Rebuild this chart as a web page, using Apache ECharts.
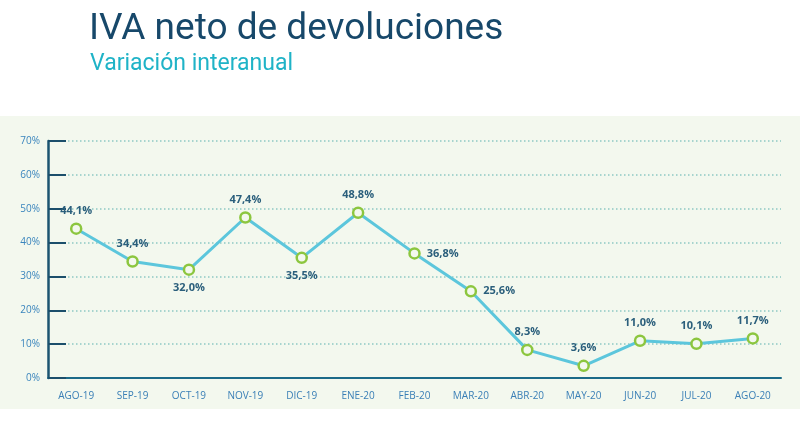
<!DOCTYPE html>
<html>
<head>
<meta charset="utf-8">
<script src="https://cdn.jsdelivr.net/npm/echarts@6/dist/echarts.min.js"></script>
<style>
  html, body { margin: 0; padding: 0; background: #fff; }
  #chart { width: 800px; height: 442px; }
</style>
</head>
<body>
<div id="chart"></div>
<script>
// meses y variación interanual (%)
const meses = ['AGO-19', 'SEP-19', 'OCT-19', 'NOV-19', 'DIC-19', 'ENE-20', 'FEB-20',
  'MAR-20', 'ABR-20', 'MAY-20', 'JUN-20', 'JUL-20', 'AGO-20'];
const variacion = [44.1, 34.4, 32.0, 47.4, 35.5, 48.8, 36.8, 25.6, 8.3, 3.6, 11.0, 10.1, 11.7];
// posición de cada etiqueta
const posEtiqueta = ['top', 'top', 'bottom', 'top', 'bottom', 'top', 'right',
  'right', 'top', 'top', 'top', 'top', 'top'];

const fmt = v => v.toFixed(1).replace('.', ',') + '%';

const chart = echarts.init(document.getElementById('chart'));
chart.setOption({
  animation: false,
  graphic: [
    { type: 'rect', shape: { x: 0, y: 116, width: 800, height: 293 },
      style: { fill: '#f3f8ee' }, z: -10 },
    { type: 'text', left: 89, top: 11,
      style: { text: 'IVA neto de devoluciones', fill: '#17486a',
        font: '37px Roboto' } },
    { type: 'text', left: 90, top: 53,
      style: { text: 'Variación interanual', fill: '#1fb3c7',
        font: '23px Roboto' } }
  ],
  grid: { left: 48, right: 19, top: 141, bottom: 64 },
  xAxis: {
    type: 'category',
    data: meses,
    boundaryGap: true,
    axisLine: { lineStyle: { color: '#1b6a88', width: 2 } },
    axisTick: { inside: true, length: 6, interval: 0,
      lineStyle: { color: '#1b6a88', width: 1.5 } },
    axisLabel: { color: '#3a7fb6', fontSize: 10, margin: 13,
      fontFamily: 'Open Sans', interval: 0 }
  },
  yAxis: {
    type: 'value',
    min: 0, max: 70, interval: 10,
    axisLine: { show: true, lineStyle: { color: '#1b5470', width: 2.5 } },
    axisTick: { show: true, inside: true, length: 18,
      lineStyle: { color: '#1b4f6b', width: 2 } },
    axisLabel: { color: '#3a85bd', fontSize: 10, margin: 8,
      fontFamily: 'Open Sans', formatter: '{value}%' },
    splitLine: { lineStyle: { color: '#8ec7c4', type: [1.5, 2.5], width: 1.5 } }
  },
  series: [{
    type: 'line',
    data: variacion.map((v, i) => ({
      value: v,
      label: { position: posEtiqueta[i] }
    })),
    lineStyle: { color: '#5cc6dc', width: 3 },
    symbol: 'circle',
    symbolSize: 10,
    itemStyle: { color: '#f3f8ee', borderColor: '#8cc63f', borderWidth: 2.5 },
    label: {
      show: true,
      formatter: p => fmt(p.value),
      color: '#2b5f7c',
      fontSize: 11,
      fontWeight: 'bold',
      fontFamily: 'Open Sans',
      distance: 6
    }
  }]
});
</script>
</body>
</html>
